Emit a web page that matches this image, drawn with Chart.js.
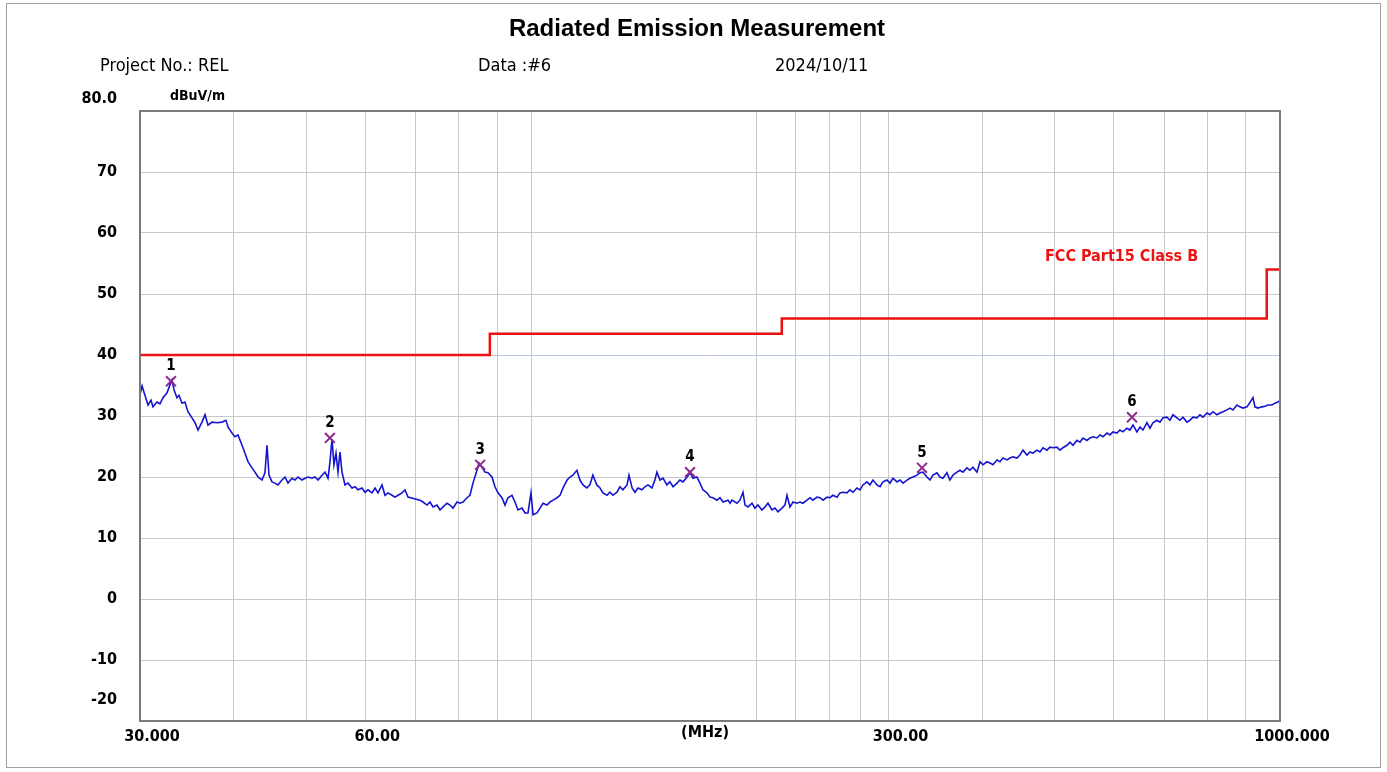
<!DOCTYPE html>
<html lang="en">
<head>
    <meta charset="UTF-8">
    <title>Radiated Emission Measurement</title>
    <script src="https://cdn.jsdelivr.net/npm/chart.js"></script>
    <style>
        body {
            margin: 0;
            background: #fff;
        }
        .wrap {
            width: 1387px;
            height: 772px;
            position: relative;
        }
    </style>
</head>
<body>
    <div class="wrap"><canvas id="emi"></canvas></div>
    <script>
        const traceFreq = [
            30.00, 30.19, 30.46, 30.75, 31.03, 31.22, 31.61, 31.90, 32.20, 32.60, 32.90, 33.10, 33.31, 33.61, 33.82,
            34.14, 34.45, 34.77, 35.20, 35.53, 35.86, 36.30, 36.64, 36.98, 37.44, 38.02, 38.61, 39.08, 39.33, 39.81,
            40.18, 40.55, 41.06, 41.44, 41.82, 42.34, 42.73, 43.13, 43.66, 44.06, 44.34, 44.61, 45.02, 45.44, 45.86,
            46.43, 46.86, 47.30, 47.88, 48.32, 48.77, 49.38, 49.83, 50.30, 50.92, 51.39, 51.87, 52.51, 53.00, 53.49,
            53.82, 54.15, 54.48, 54.82, 55.16, 55.50, 55.84, 56.36, 56.88, 57.59, 58.12, 58.66, 59.39, 59.94, 60.49,
            61.24, 61.81, 62.38, 63.15, 63.74, 64.33, 65.12, 65.73, 66.34, 67.16, 67.78, 68.41, 70.98, 71.64, 72.53,
            73.20, 73.88, 74.79, 75.49, 76.19, 77.13, 77.84, 78.56, 79.54, 80.27, 81.02, 82.02, 82.78, 83.55, 84.58,
            85.11, 85.90, 86.69, 87.49, 88.58, 89.40, 90.23, 91.34, 92.19, 93.04, 94.20, 95.07, 95.95, 97.14, 98.04,
            98.95, 99.87, 100.5, 101.7, 102.7, 103.6, 104.9, 105.9, 106.9, 108.2, 109.2, 110.2, 111.6, 112.6, 113.6,
            115.0, 116.1, 117.2, 118.6, 119.7, 120.8, 122.3, 123.5, 124.6, 126.2, 127.3, 128.5, 130.1, 131.3, 132.5,
            134.2, 135.0, 136.3, 137.5, 138.8, 140.5, 141.8, 143.1, 144.9, 146.2, 147.1, 148.5, 149.9, 151.7, 153.1,
            154.6, 156.5, 157.9, 159.4, 161.4, 162.9, 164.4, 166.4, 167.9, 169.5, 171.6, 173.2, 174.8, 177.0, 178.6,
            180.3, 183.1, 184.2, 185.3, 188.2, 189.9, 191.7, 192.9, 194.7, 197.1, 198.9, 200.7, 203.2, 205.1, 207.0,
            209.6, 211.5, 213.5, 216.1, 218.1, 219.5, 221.5, 223.6, 226.3, 228.4, 230.5, 233.4, 235.6, 237.7, 240.7,
            242.9, 245.2, 248.2, 250.5, 252.8, 256.0, 258.3, 260.7, 264.0, 266.4, 268.9, 272.2, 274.7, 277.3, 280.7,
            283.3, 285.9, 289.5, 292.2, 294.9, 298.5, 301.3, 304.1, 307.8, 310.7, 313.6, 317.5, 320.4, 323.4, 327.4,
            330.4, 333.5, 337.6, 340.7, 343.9, 348.1, 351.4, 354.6, 359.0, 362.3, 365.7, 370.2, 373.7, 377.1, 381.8,
            385.3, 388.9, 393.7, 397.4, 401.1, 406.0, 409.8, 413.6, 418.7, 422.6, 426.5, 431.8, 435.8, 439.8, 445.3,
            449.4, 453.6, 459.2, 463.4, 467.7, 473.5, 477.9, 482.3, 488.3, 492.8, 497.4, 503.6, 508.2, 512.9, 519.3,
            524.1, 529.0, 535.5, 540.5, 545.5, 552.2, 557.4, 562.5, 569.5, 574.8, 580.1, 587.3, 592.7, 598.2, 605.6,
            611.2, 616.9, 624.5, 630.3, 636.2, 644.0, 650.0, 656.0, 664.2, 670.3, 676.5, 684.9, 691.3, 697.7, 706.3,
            712.9, 719.5, 728.4, 735.1, 741.9, 751.1, 758.1, 765.1, 774.6, 781.8, 789.0, 798.8, 806.2, 813.7, 823.7,
            831.4, 839.1, 849.5, 857.3, 865.3, 876.0, 884.1, 892.3, 903.4, 911.7, 920.2, 925.9, 934.4, 946.0, 954.8,
            963.6, 975.6, 984.6, 993.7, 1000.0
        ];
        const traceLevel = [
            33.5, 34.9, 33.4, 31.8, 32.6, 31.5, 32.3, 32.0, 33.0, 33.8, 35.1, 35.9, 34.3, 33.0, 33.4,
            32.1, 32.3, 30.7, 29.7, 28.9, 27.7, 29.0, 30.2, 28.5, 29.0, 28.9, 29.0, 29.3, 28.2, 27.2,
            26.6, 26.9, 25.2, 23.9, 22.5, 21.5, 20.8, 20.0, 19.5, 20.7, 25.2, 20.3, 19.2, 19.0, 18.7,
            19.5, 20.0, 19.0, 19.8, 19.5, 20.0, 19.5, 19.8, 20.0, 19.8, 20.0, 19.5, 20.3, 20.8, 19.8,
            22.5, 26.2, 22.0, 23.9, 20.8, 24.1, 20.8, 18.7, 19.0, 18.2, 18.4, 17.9, 18.2, 17.5, 17.9,
            17.4, 18.2, 17.4, 18.7, 17.0, 17.4, 17.0, 16.7, 17.0, 17.4, 17.9, 16.7, 16.2, 15.9, 15.4,
            15.9, 15.1, 15.4, 14.6, 15.1, 15.7, 15.4, 14.9, 15.9, 15.7, 15.9, 16.6, 17.0, 19.0, 21.1,
            22.3, 21.6, 20.8, 20.7, 20.0, 18.4, 17.4, 16.6, 15.4, 16.6, 17.0, 15.9, 14.6, 14.9, 14.1,
            14.1, 17.4, 13.8, 14.1, 14.9, 15.7, 15.4, 15.9, 16.2, 16.6, 17.0, 18.2, 19.5, 20.0, 20.3,
            21.1, 19.5, 18.7, 18.2, 18.7, 20.3, 18.7, 18.2, 17.4, 17.0, 17.5, 17.0, 17.5, 18.4, 17.9,
            18.7, 20.3, 18.2, 17.5, 18.2, 17.9, 18.4, 18.7, 18.2, 19.5, 20.8, 19.5, 19.8, 18.7, 19.2,
            18.4, 19.0, 19.5, 19.2, 20.0, 20.7, 19.8, 20.0, 19.0, 17.9, 17.4, 16.7, 16.6, 16.2, 16.6,
            15.9, 16.2, 15.7, 16.2, 15.7, 16.2, 17.5, 15.4, 15.1, 15.7, 14.9, 15.4, 14.6, 15.1, 15.7,
            14.6, 14.9, 14.3, 14.9, 15.4, 17.0, 15.1, 15.9, 15.7, 15.9, 15.7, 16.2, 16.6, 16.2, 16.7,
            16.6, 16.2, 16.7, 16.6, 17.0, 16.7, 17.4, 17.5, 17.4, 17.9, 17.5, 18.2, 17.9, 18.7, 19.2,
            18.7, 19.5, 18.7, 18.4, 19.2, 19.5, 19.0, 19.8, 19.2, 19.5, 19.0, 19.5, 19.8, 20.0, 20.3,
            20.7, 20.8, 20.0, 19.5, 20.3, 20.7, 20.0, 19.8, 20.7, 19.5, 20.3, 20.8, 21.1, 20.8, 21.5,
            21.1, 21.6, 20.8, 22.5, 22.0, 22.5, 22.3, 22.0, 22.8, 22.5, 23.1, 22.8, 23.1, 23.3, 23.1,
            23.6, 24.4, 23.6, 24.1, 23.9, 24.4, 24.1, 24.8, 24.4, 24.9, 24.8, 24.9, 24.4, 24.8, 25.2,
            25.7, 25.2, 26.0, 25.7, 26.4, 26.0, 26.4, 26.6, 26.4, 26.9, 26.6, 27.2, 26.9, 27.4, 27.2,
            27.7, 27.4, 28.0, 27.7, 28.5, 27.4, 28.2, 27.7, 28.9, 28.0, 28.9, 29.3, 29.0, 29.7, 29.8,
            29.3, 30.2, 29.7, 29.3, 29.8, 29.0, 29.3, 29.8, 29.7, 30.2, 29.8, 30.5, 30.2, 30.7, 30.2,
            30.5, 30.7, 31.0, 31.3, 31.0, 31.8, 31.5, 31.3, 31.5, 32.2, 33.0, 31.5, 31.3, 31.5, 31.6,
            31.8, 31.8, 32.1, 32.3, 32.5
        ];

        // FCC Part15 Class B limit (3 m)
        const limitFreq = [30, 88, 88, 216, 216, 960, 960, 1000];
        const limitLevel = [40, 40, 43.5, 43.5, 46, 46, 54, 54];

        // marked peaks
        const peakFreq = [33.0, 53.8, 85.4, 162.9, 332.5, 634.3];
        const peakLevel = [35.7, 26.4, 22.0, 20.8, 21.5, 29.8];
        const peakNames = ['1', '2', '3', '4', '5', '6'];

        // axis
        const gridFreqs = [30, 40, 50, 60, 70, 80, 90, 100, 200, 225, 250, 275, 300, 400, 500, 600, 700, 800, 900, 1000];
        const freqLabels = { 30: '30.000', 60: '60.00', 300: '300.00', 1000: '1000.000' };

        const narrow = "'Liberation Sans Narrow', 'DejaVu Sans Condensed', sans-serif";

        const pairs = (xs, ys) => xs.map((x, i) => ({ x: x, y: ys[i] }));

        // header, frame, odd axis labels, peak numbers
        const decor = {
            id: 'decor',
            beforeDraw(chart) {
                const ctx = chart.ctx;
                ctx.save();
                ctx.fillStyle = '#fff';
                ctx.fillRect(0, 0, chart.width, chart.height);
                ctx.strokeStyle = '#a0a0a0';
                ctx.lineWidth = 1;
                ctx.strokeRect(6.5, 3.5, 1374, 764);
                ctx.restore();
            },
            afterDraw(chart) {
                const ctx = chart.ctx;
                const area = chart.chartArea;
                const xs = chart.scales.x;
                const ys = chart.scales.y;
                ctx.save();

                ctx.strokeStyle = '#7a7a7a';
                ctx.lineWidth = 2;
                ctx.strokeRect(area.left, area.top, area.right - area.left, area.bottom - area.top);

                ctx.fillStyle = '#000';
                ctx.textBaseline = 'middle';
                ctx.textAlign = 'center';
                ctx.font = "bold 24px 'Liberation Sans', Arial, sans-serif";
                ctx.fillText('Radiated Emission Measurement', 697, 29);

                ctx.textAlign = 'left';
                ctx.font = '18px ' + narrow;
                ctx.fillText('Project No.: REL', 100, 66);
                ctx.fillText('Data :#6', 478, 66);
                ctx.fillText('2024/10/11', 775, 66);

                ctx.font = 'bold 14px ' + narrow;
                ctx.fillText('dBuV/m', 170, 96);

                ctx.textAlign = 'right';
                ctx.font = 'bold 16px ' + narrow;
                ctx.fillText('80.0', 117, 99);
                ctx.fillText('-20', 117, 700);

                ctx.textAlign = 'center';
                ctx.fillText('(MHz)', 705, 733);

                ctx.textAlign = 'left';
                ctx.fillStyle = '#ee1111';
                ctx.font = 'bold 16px ' + narrow;
                ctx.fillText('FCC Part15 Class B', 1045, 257);

                ctx.fillStyle = '#000';
                ctx.textAlign = 'center';
                ctx.font = 'bold 15px ' + narrow;
                peakFreq.forEach((f, i) => {
                    ctx.fillText(peakNames[i], xs.getPixelForValue(f), ys.getPixelForValue(peakLevel[i]) - 15);
                });
                ctx.restore();
            }
        };

        new Chart(document.getElementById('emi'), {
            type: 'line',
            data: {
                datasets: [
                    {
                        label: 'Peaks',
                        data: pairs(peakFreq, peakLevel),
                        showLine: false,
                        pointStyle: 'crossRot',
                        pointRadius: 7,
                        pointBorderWidth: 2,
                        pointBorderColor: '#8e2a8e',
                        borderColor: '#8e2a8e'
                    },
                    {
                        label: 'Limit',
                        data: pairs(limitFreq, limitLevel),
                        borderColor: '#ee1111',
                        borderWidth: 2.5,
                        pointRadius: 0,
                        tension: 0
                    },
                    {
                        label: 'Level',
                        data: pairs(traceFreq, traceLevel),
                        borderColor: '#1414d0',
                        borderWidth: 1.6,
                        pointRadius: 0,
                        tension: 0
                    }
                ]
            },
            options: {
                responsive: true,
                maintainAspectRatio: false,
                animation: false,
                layout: {
                    padding: { left: 80, top: 111, right: 107, bottom: 0 }
                },
                plugins: {
                    legend: { display: false },
                    tooltip: { enabled: false }
                },
                scales: {
                    x: {
                        type: 'logarithmic',
                        min: 30,
                        max: 1000,
                        afterBuildTicks: scale => {
                            scale.ticks = gridFreqs.map(v => ({ value: v }));
                        },
                        afterFit: scale => { scale.height = 51; },
                        grid: { color: '#c8c8c8', lineWidth: 1, drawTicks: false },
                        border: { color: '#7a7a7a', width: 2 },
                        ticks: {
                            autoSkip: false,
                            maxRotation: 0,
                            padding: 6,
                            labelOffset: 12,
                            color: '#000',
                            font: { family: narrow, size: 16, weight: 'bold' },
                            callback: v => freqLabels[v] || ''
                        }
                    },
                    y: {
                        min: -20,
                        max: 80,
                        afterFit: scale => { scale.width = 60; },
                        grid: {
                            color: ctx => ctx.tick && ctx.tick.value === 40 ? '#b9c6e6' : '#c8c8c8',
                            lineWidth: 1,
                            drawTicks: false
                        },
                        border: { color: '#7a7a7a', width: 2 },
                        ticks: {
                            stepSize: 10,
                            padding: 23,
                            color: '#000',
                            font: { family: narrow, size: 16, weight: 'bold' },
                            callback: v => (v === 80 || v === -20) ? '' : String(v)
                        }
                    }
                }
            },
            plugins: [decor]
        });
    </script>
</body>
</html>
